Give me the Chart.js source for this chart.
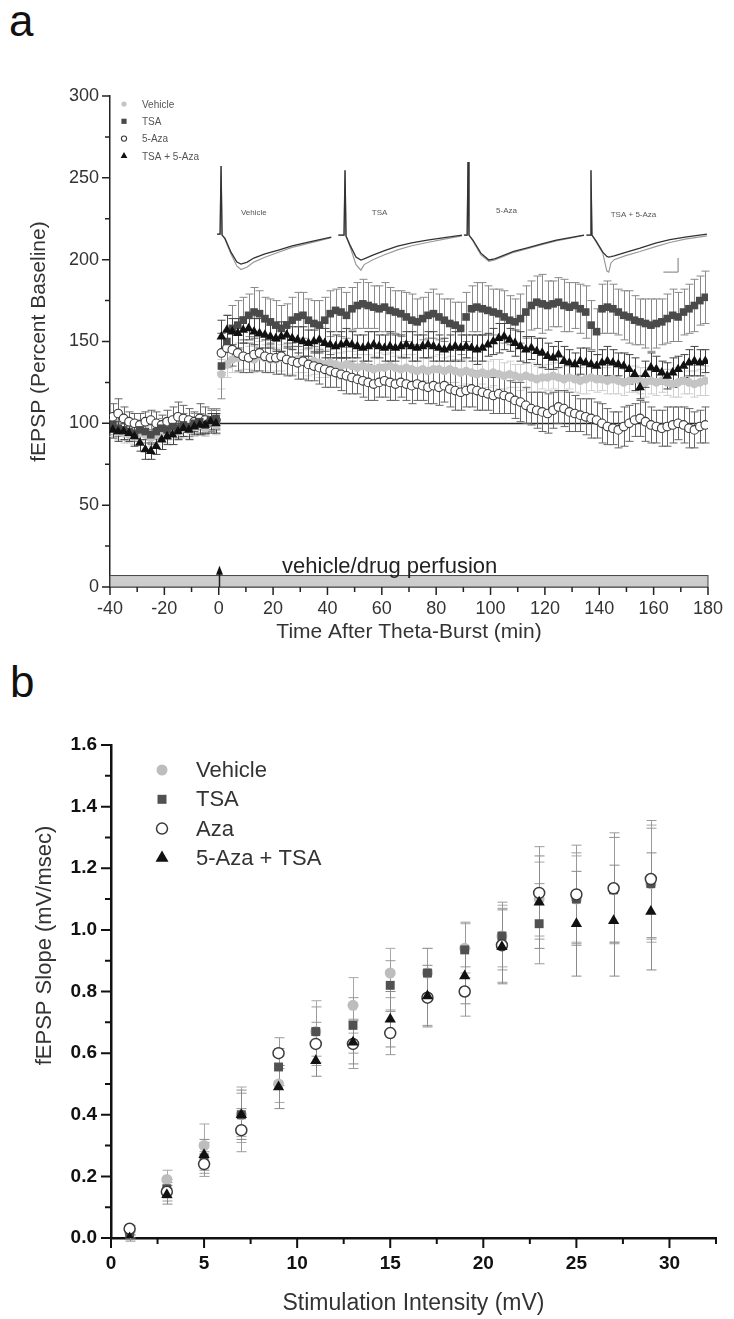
<!DOCTYPE html>
<html>
<head>
<meta charset="utf-8">
<script src="https://cdn.jsdelivr.net/npm/chart.js@4.4.1/dist/chart.umd.min.js"></script>
<style>
body { margin: 0; background: #fff; width: 734px; height: 1319px; overflow: hidden; position: relative; font-family: "Liberation Sans", Arial, sans-serif; }
canvas { position: absolute; left: 0; }
#chartA { top: 0; }
#chartB { top: 660px; }
.panel { position: absolute; font-size: 44px; line-height: 44px; color: #111; }
</style>
</head>
<body>
<div class="panel" style="left:9px;top:-1px">a</div>
<div class="panel" style="left:10px;top:660px">b</div>
<canvas id="chartA" width="734" height="660"></canvas>
<canvas id="chartB" width="734" height="659"></canvas>
<script>
// ---- panel a: time course (% baseline) ----
var minutes = [-39,-37,-35,-33,-31,-29,-27,-25,-23,-21,-19,-17,-15,-13,-11,-9,-7,-5,-3,-1,
  1,3,5,7,9,11,13,15,17,19,21,23,25,27,29,31,33,35,37,39,
  41,43,45,47,49,51,53,55,57,59,61,63,65,67,69,71,73,75,77,79,
  81,83,85,87,89,91,93,95,97,99,101,103,105,107,109,111,113,115,117,119,
  121,123,125,127,129,131,133,135,137,139,141,143,145,147,149,151,153,155,157,159,
  161,163,165,167,169,171,173,175,177,179];

var vehicleA = [97,95,94,93,92,94,93,91,93,95,94,96,95,97,96,98,99,97,100,99,
  130,136,139,140,141,140,139,141,140,139,
  139,140,139,138,139,138,137,138,137,136,
  137,136,135,136,135,134,135,134,133,134,
  134,135,134,133,134,133,132,133,132,133,
  133,132,133,132,131,132,131,130,131,130,
  131,130,129,130,129,128,129,128,127,128,
  128,129,128,127,128,127,126,127,128,127,
  127,126,127,126,125,126,127,126,125,126,
  125,126,125,124,125,126,125,124,125,126];
var tsaA = [99,97,96,95,94,96,95,93,95,97,96,98,97,99,98,100,101,99,102,103,
  135,150,158,160,163,166,168,167,164,162,
  160,158,160,163,165,166,163,161,160,163,
  167,169,168,166,170,172,173,172,171,170,
  171,169,168,167,165,163,162,164,166,167,
  165,163,161,160,158,165,170,171,170,169,
  168,167,165,163,162,164,168,172,174,173,
  172,173,174,172,171,172,170,168,160,156,
  170,171,170,168,166,165,163,162,161,160,
  161,162,164,166,165,168,170,172,175,177];
var azaA = [104,106,103,101,100,99,101,102,100,99,101,102,104,103,102,101,103,102,101,102,
  143,146,145,143,141,140,142,143,141,140,
  140,141,139,138,137,138,136,135,134,133,
  132,131,130,129,128,127,126,125,124,125,
  126,125,124,125,124,123,124,123,122,123,
  122,123,121,120,119,120,121,120,119,118,
  117,118,117,116,114,113,111,109,108,107,
  106,108,110,109,107,106,105,104,103,102,
  100,98,97,96,98,100,102,103,101,99,
  98,97,98,99,100,99,97,96,98,99];
var tsaAzaA = [96,95,95,94,92,88,84,83,86,90,92,93,95,97,96,98,99,99,101,100,
  153,157,156,155,157,158,156,155,154,153,
  152,153,154,152,151,150,149,150,151,149,
  148,147,148,149,148,147,146,147,148,147,
  146,147,146,147,148,147,146,147,148,147,
  146,145,146,147,146,147,146,145,146,148,
  150,152,153,151,149,147,145,146,144,143,
  141,140,142,138,137,136,138,137,136,135,
  137,138,137,136,135,133,130,122,130,134,
  133,131,129,131,133,135,137,138,137,138];

var vehicleErrA = [5,5,6,5,5,6,5,5,6,5,6,6,5,6,5,6,6,5,6,6,
  9,8,8,9,8,7,8,9,8,8, 7,8,9,8,8,7,8,8,9,8, 8,7,8,8,9,8,7,8,8,9,
  8,8,7,8,8,9,8,7,8,8, 9,8,8,7,8,8,9,8,7,8, 8,9,8,8,7,8,8,9,8,7,
  8,8,9,8,7,8,8,9,8,8, 7,8,9,8,8,7,8,8,9,8, 8,7,8,8,9,8,7,8,8,9];
var tsaErrA = [6,5,6,6,5,6,7,6,5,6,6,5,6,7,6,6,5,6,7,6,
  20,16,14,15,14,13,15,14,13,14, 15,14,13,14,15,14,13,14,15,14, 14,13,15,14,13,14,15,14,13,14,
  15,14,13,14,15,16,14,13,14,15, 14,13,15,14,16,15,14,15,16,15, 14,15,16,15,14,15,16,15,16,18,
  15,14,15,16,15,14,15,16,15,14, 15,16,15,14,15,16,15,14,15,16, 15,14,15,16,15,14,15,16,15,16];
var azaErrA = [8,9,7,6,6,7,6,6,7,6,7,8,9,8,7,6,9,8,7,6,
  12,11,10,11,10,9,10,11,10,9, 10,11,10,9,10,11,10,9,10,11, 10,9,10,11,10,9,10,11,10,9,
  10,11,10,9,10,11,10,9,10,11, 11,10,11,12,11,10,11,12,11,10, 11,12,11,10,11,12,11,10,11,12,
  12,11,10,11,12,11,10,11,12,11, 12,11,10,11,12,11,10,11,12,11, 10,11,12,11,10,11,12,11,10,11];
var tsaAzaErrA = [5,6,5,5,6,5,6,5,5,6,5,6,5,5,6,5,6,5,5,6,
  10,9,8,9,8,7,8,9,8,7, 8,9,8,7,8,9,8,7,8,9, 8,7,8,9,8,7,8,9,8,7,
  8,9,8,7,8,9,8,7,8,9, 8,7,8,9,8,7,8,9,8,7, 8,9,8,7,8,9,8,7,8,9,
  8,7,8,9,8,7,8,9,8,7, 8,9,8,7,8,9,10,7,8,9, 8,7,8,9,8,7,8,9,8,7];

// example fEPSP traces of the inset (drawn in the panel's own units); null = gap
var traceT = [-0.6,0.5,0.86,1.23,2.3,4.5,6.7,8.2,10.5,12.9,17,22,27,33,41.4, 42.7,
  44,46.1,46.47,46.83,48.3,50.5,52.3,53.5,56.7,61,65.8,71,76.75,83,89.5, 89.8,
  90.2,91.4,91.71,92.07,93.5,96.45,99.4,101.5,104.1,108.5,113.2,118.5,124.2,134.4, 134.8,
  135.3,136.6,136.95,137.31,138.8,141.3,142.8,143.5,144.3,145.5,149.7,155,160.7,166,171.6,179.6];
var tracePost = [215.6,215.6,257.2,215,213,204.6,198.5,197.3,198.5,201,203.5,205.9,208.5,210.7,213.8, null,
  215,215,254.7,214.4,208.9,201.6,199.8,200.5,202.8,205.5,208.3,210.3,212,213.5,215, null,
  215,215,259.6,215,212,204,199.8,200.5,202.2,205,207.1,209.5,212,215, null,
  215,215,254.7,215,211.5,204.6,202,201.6,201.8,202.3,204.5,207,210.1,212.3,213.8,215.6];
var traceBase = [215.6,215.6,257.2,215,212.5,203.5,196,194,195.5,198.5,201.5,204.5,207.5,210,213.5, null,
  215,215,254.7,214.4,208,197,193.6,197,200,203,206,208.5,210.5,212.5,214.5, null,
  215,215,259.6,215,211.5,203,199,199.8,201.5,204.5,206.5,209,211.5,214.8, null,
  215,215,254.7,215,211,204,193,192.4,198,200,202.5,205,208,210.5,212.5,214.5];
var scaleBarT = [163.6, 169, 169];
var scaleBarV = [192.4, 192.4, 201];
var traceLabels = ['Vehicle', 'TSA', '5-Aza', 'TSA + 5-Aza'];
var traceLabelT = [12.9, 59.2, 105.9, 152.6];
var traceLabelV = [228.5, 228.5, 229.7, 227.2];

// ---- panel b: input/output ----
var intensity = [1,3,5,7,9,11,13,15,17,19,21,23,25,27,29];
var vehicleB = [0.02,0.19,0.30,0.40,0.50,0.67,0.755,0.86,0.86,0.94,0.98,1.10,1.10,1.13,1.15];
var tsaB     = [0.01,0.16,0.26,0.40,0.555,0.67,0.69,0.82,0.86,0.935,0.98,1.02,1.10,1.13,1.15];
var azaB     = [0.03,0.15,0.24,0.35,0.60,0.63,0.63,0.665,0.78,0.80,0.95,1.12,1.115,1.135,1.165];
var azaTsaB  = [0.00,0.14,0.27,0.40,0.49,0.575,0.635,0.71,0.785,0.85,0.945,1.09,1.02,1.03,1.06];
var vehicleErrB = [0.01,0.03,0.07,0.09,0.06,0.10,0.09,0.08,0.08,0.08,0.10,0.12,0.14,0.17,0.19];
var tsaErrB     = [0.01,0.03,0.05,0.07,0.06,0.08,0.09,0.08,0.08,0.09,0.11,0.13,0.15,0.17,0.18];
var azaErrB     = [0.01,0.03,0.04,0.07,0.05,0.07,0.08,0.07,0.09,0.08,0.12,0.15,0.16,0.18,0.19];
var azaTsaErrB  = [0.01,0.03,0.05,0.08,0.07,0.05,0.07,0.09,0.10,0.09,0.12,0.15,0.17,0.18,0.19];

var FONT = '"Liberation Sans", Arial, sans-serif';

function pts(xs, ys) {
    return xs.map(function (v, i) { return { x: v, y: ys[i] }; });
}

function mark(ctx, style, x, y, r, fill, stroke, lw) {
    ctx.beginPath();
    if (style == 'circle')
        ctx.arc(x, y, r, 0, Math.PI * 2);
    else if (style == 'rect')
        ctx.rect(x - r, y - r, 2 * r, 2 * r);
    else {
        ctx.moveTo(x, y - r * 1.15);
        ctx.lineTo(x + r, y + r * 0.6);
        ctx.lineTo(x - r, y + r * 0.6);
        ctx.closePath();
    }
    ctx.fillStyle = fill;
    ctx.fill();
    if (stroke) {
        ctx.strokeStyle = stroke;
        ctx.lineWidth = lw;
        ctx.stroke();
    }
}

function drawErrors(chart, capW) {
    var ctx = chart.ctx, xs = chart.scales.x, ys = chart.scales.y;
    var sets = chart.data.datasets.filter(function (d) { return d.err; });
    sets.sort(function (a, b) { return b.order - a.order; });
    sets.forEach(function (ds) {
        ctx.strokeStyle = ds.errColor;
        ctx.lineWidth = ds.errWidth;
        ctx.beginPath();
        ds.data.forEach(function (p, j) {
            var e = ds.err[j];
            var px = Math.round(xs.getPixelForValue(p.x)) + 0.5;
            var top = ys.getPixelForValue(p.y + e), bot = ys.getPixelForValue(p.y - e);
            ctx.moveTo(px, top); ctx.lineTo(px, bot);
            ctx.moveTo(px - capW, top); ctx.lineTo(px + capW, top);
            ctx.moveTo(px - capW, bot); ctx.lineTo(px + capW, bot);
        });
        ctx.stroke();
    });
}

// outward major + minor tick marks on both axes
function drawTicks(chart, t) {
    var ctx = chart.ctx, xs = chart.scales.x, ys = chart.scales.y, a = chart.chartArea;
    ctx.save();
    ctx.strokeStyle = t.color;
    ctx.lineWidth = t.width;
    ctx.beginPath();
    var xv = xs.ticks.map(function (k) { return k.value; });
    var yv = ys.ticks.map(function (k) { return k.value; });
    xv.forEach(function (v, i) {
        var p = xs.getPixelForValue(v);
        ctx.moveTo(p, a.bottom); ctx.lineTo(p, a.bottom + t.major);
        if (i < xv.length - 1 || t.xEndMinor) {
            var step = i < xv.length - 1 ? xv[i + 1] - v : xv[1] - xv[0];
            var m = xs.getPixelForValue(v + step / 2);
            ctx.moveTo(m, a.bottom); ctx.lineTo(m, a.bottom + t.minor);
        }
    });
    yv.forEach(function (v, i) {
        var p = ys.getPixelForValue(v);
        ctx.moveTo(a.left, p); ctx.lineTo(a.left - t.major, p);
        if (i < yv.length - 1) {
            var m = ys.getPixelForValue((v + yv[i + 1]) / 2);
            ctx.moveTo(a.left, m); ctx.lineTo(a.left - t.minor, m);
        }
    });
    ctx.stroke();
    ctx.restore();
}

function drawLegend(chart, lg) {
    var ctx = chart.ctx, a = chart.chartArea;
    ctx.save();
    ctx.font = lg.font;
    ctx.textBaseline = 'middle';
    ctx.textAlign = 'left';
    lg.labels.forEach(function (txt, i) {
        var ds = chart.data.datasets.filter(function (d) { return d.label == txt; })[0];
        var y = a.top + lg.top + i * lg.gap;
        mark(ctx, ds.pointStyle, a.left + lg.markX, y, lg.size[i], ds.backgroundColor,
             ds.pointBorderWidth ? ds.borderColor : null, ds.pointBorderWidth);
        ctx.fillStyle = lg.color;
        ctx.fillText(txt, a.left + lg.textX, y + 1);
    });
    ctx.restore();
}

var panelA = {
    id: 'panelA',
    beforeDatasetsDraw: function (chart) {
        var ctx = chart.ctx, x = chart.scales.x, y = chart.scales.y;
        ctx.save();
        // perfusion bar along the bottom
        var x0 = x.getPixelForValue(-40), x1 = x.getPixelForValue(180);
        var yb = y.getPixelForValue(0), yt = y.getPixelForValue(7);
        ctx.fillStyle = '#cdcdcd';
        ctx.fillRect(x0, yt, x1 - x0, yb - yt);
        ctx.strokeStyle = '#444';
        ctx.lineWidth = 1;
        ctx.strokeRect(x0, yt, x1 - x0, yb - yt);
        // 100 % reference line
        var y100 = Math.round(y.getPixelForValue(100)) + 0.5;
        ctx.strokeStyle = '#222';
        ctx.lineWidth = 1.5;
        ctx.beginPath();
        ctx.moveTo(x0, y100); ctx.lineTo(x1, y100);
        ctx.stroke();
        // arrow at t = 0
        var xa = Math.round(x.getPixelForValue(0)) + 0.5;
        var ya = y.getPixelForValue(13);
        ctx.lineWidth = 1.5;
        ctx.beginPath();
        ctx.moveTo(xa, yb); ctx.lineTo(xa, ya + 6);
        ctx.stroke();
        ctx.fillStyle = '#111';
        ctx.beginPath();
        ctx.moveTo(xa, ya); ctx.lineTo(xa + 3.5, ya + 9); ctx.lineTo(xa - 3.5, ya + 9);
        ctx.closePath();
        ctx.fill();
        ctx.font = '22px ' + FONT;
        ctx.fillStyle = '#222';
        ctx.textAlign = 'center';
        ctx.textBaseline = 'alphabetic';
        ctx.fillText('vehicle/drug perfusion', x.getPixelForValue(62.9), yb - 14);
        // inset trace labels
        ctx.font = '8px ' + FONT;
        ctx.fillStyle = '#555';
        ctx.textBaseline = 'middle';
        traceLabels.forEach(function (s, i) {
            ctx.fillText(s, x.getPixelForValue(traceLabelT[i]), y.getPixelForValue(traceLabelV[i]));
        });
        drawErrors(chart, 4);
        ctx.restore();
    },
    afterDraw: function (chart) {
        drawTicks(chart, { color: '#222', width: 1.5, major: 8, minor: 5, xEndMinor: false });
        drawLegend(chart, {
            labels: ['Vehicle', 'TSA', '5-Aza', 'TSA + 5-Aza'],
            font: '10px ' + FONT, color: '#555',
            markX: 14, textX: 32, top: 8, gap: 17.3, size: [2.6, 2.6, 2.6, 3.4]
        });
    }
};

var panelB = {
    id: 'panelB',
    beforeDatasetsDraw: function (chart) {
        var ctx = chart.ctx, a = chart.chartArea;
        ctx.save();
        drawErrors(chart, 5);
        ctx.restore();
    },
    afterDraw: function (chart) {
        var ctx = chart.ctx, a = chart.chartArea;
        drawTicks(chart, { color: '#111', width: 2, major: 10, minor: 6, xEndMinor: true });
        drawLegend(chart, {
            labels: ['Vehicle', 'TSA', 'Aza', '5-Aza + TSA'],
            font: '22px ' + FONT, color: '#333',
            markX: 51, textX: 85, top: 25, gap: 29.3, size: [5.5, 4.5, 5.5, 6.5]
        });
        ctx.save();
        ctx.translate(45, (a.top + a.bottom) / 2 - 46);
        ctx.rotate(-Math.PI / 2);
        ctx.font = '22px ' + FONT;
        ctx.fillStyle = '#333';
        ctx.textAlign = 'center';
        ctx.textBaseline = 'middle';
        ctx.fillText('fEPSP Slope (mV/msec)', 0, 0);
        ctx.restore();
    }
};

function markerSet(label, xs, ys, errs, style, r, fill, border, bw, errColor, order) {
    return {
        type: 'scatter', label: label, data: pts(xs, ys), err: errs,
        pointStyle: style, pointRadius: r, backgroundColor: fill, borderColor: border,
        pointBorderWidth: bw, borderWidth: bw, errColor: errColor, errWidth: 1, order: order
    };
}

function lineSet(xs, ys, color, w, order) {
    return {
        type: 'line', label: '', data: pts(xs, ys), borderColor: color, borderWidth: w,
        pointRadius: 0, fill: false, spanGaps: false, tension: 0, order: order
    };
}

Chart.defaults.font.family = FONT;

new Chart(document.getElementById('chartA'), {
    type: 'scatter',
    data: {
        datasets: [
            markerSet('Vehicle', minutes, vehicleA, vehicleErrA, 'circle', 4.3, '#c4c4c4', '#c4c4c4', 0, '#cfcfcf', 4),
            markerSet('TSA', minutes, tsaA, tsaErrA, 'rect', 5.4, '#4a4a4a', '#4a4a4a', 0, '#8a8a8a', 2),
            markerSet('5-Aza', minutes, azaA, azaErrA, 'circle', 4.3, '#ffffff', '#3c3c3c', 1.1, '#666666', 3),
            markerSet('TSA + 5-Aza', minutes, tsaAzaA, tsaAzaErrA, 'triangle', 5.6, '#111111', '#111111', 0, '#444444', 1),
            lineSet(traceT, traceBase, '#9a9a9a', 1.2, 6),
            lineSet(traceT, tracePost, '#333333', 1.3, 5),
            lineSet(scaleBarT, scaleBarV, '#777777', 1, 5)
        ]
    },
    options: {
        responsive: false, animation: false, devicePixelRatio: 1,
        layout: { padding: { top: 96, right: 21, left: 0, bottom: 0 } },
        plugins: { legend: { display: false }, tooltip: { enabled: false } },
        scales: {
            x: {
                type: 'linear', min: -40, max: 180,
                afterFit: function (s) { s.height = 73; },
                ticks: { stepSize: 20, padding: 11, color: '#333', maxRotation: 0, autoSkip: false, font: { size: 18 } },
                grid: { display: false, drawTicks: false },
                border: { display: true, color: '#222', width: 1.5 },
                title: { display: true, text: 'Time After Theta-Burst (min)', color: '#333', font: { size: 21 }, padding: { top: 0, bottom: 15 } }
            },
            y: {
                type: 'linear', min: 0, max: 300,
                afterFit: function (s) { s.width = 110; },
                ticks: { stepSize: 50, padding: 11, color: '#333', font: { size: 18 } },
                grid: { display: false, drawTicks: false },
                border: { display: true, color: '#222', width: 1.5 },
                title: { display: true, text: 'fEPSP (Percent Baseline)', color: '#333', font: { size: 21 }, padding: { top: 27, bottom: 0 } }
            }
        }
    },
    plugins: [panelA]
});

new Chart(document.getElementById('chartB'), {
    type: 'scatter',
    data: {
        datasets: [
            markerSet('Vehicle', intensity, vehicleB, vehicleErrB, 'circle', 5.5, '#bdbdbd', '#bdbdbd', 0, '#a8a8a8', 4),
            markerSet('TSA', intensity, tsaB, tsaErrB, 'rect', 6.3, '#515151', '#515151', 0, '#9a9a9a', 3),
            markerSet('Aza', intensity, azaB, azaErrB, 'circle', 5.5, '#ffffff', '#3a3a3a', 1.5, '#9a9a9a', 2),
            markerSet('5-Aza + TSA', intensity, azaTsaB, azaTsaErrB, 'triangle', 6.5, '#111111', '#111111', 0, '#8a8a8a', 1)
        ]
    },
    options: {
        responsive: false, animation: false, devicePixelRatio: 1,
        layout: { padding: { top: 85, right: 18, left: 0, bottom: 0 } },
        plugins: { legend: { display: false }, tooltip: { enabled: false } },
        scales: {
            x: {
                type: 'linear', min: 0, max: 32.5,
                afterFit: function (s) { s.height = 81; },
                ticks: { stepSize: 5, includeBounds: false, padding: 14, color: '#111', maxRotation: 0, autoSkip: false, font: { size: 19, weight: 'bold' } },
                grid: { display: false, drawTicks: false },
                border: { display: true, color: '#111', width: 2.5 },
                title: { display: true, text: 'Stimulation Intensity (mV)', color: '#333', font: { size: 23 }, padding: { top: 0, bottom: 2 } }
            },
            y: {
                type: 'linear', min: 0, max: 1.6,
                afterFit: function (s) { s.width = 111; },
                ticks: { stepSize: 0.2, padding: 14, color: '#111', font: { size: 19, weight: 'bold' },
                         callback: function (v) { return v.toFixed(1); } },
                grid: { display: false, drawTicks: false },
                border: { display: true, color: '#111', width: 2.5 },
                title: { display: false }
            }
        }
    },
    plugins: [panelB]
});
</script>
</body>
</html>
